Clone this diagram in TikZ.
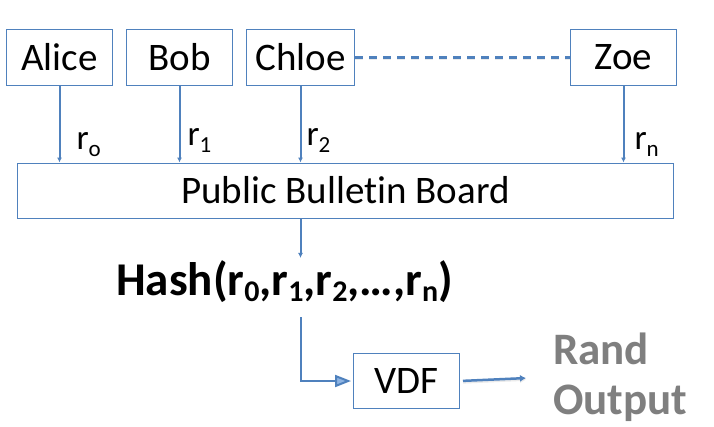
\documentclass[tikz,border=0pt]{standalone}
\usepackage{fontspec}
\setmainfont{Carlito}[Ligatures=NoCommon]
\usetikzlibrary{arrows.meta,positioning}
\definecolor{slideblue}{HTML}{4F81BD}
\definecolor{tipblue}{HTML}{8EB4E3}
\definecolor{outgray}{HTML}{7F7F7F}
% lowered index, as the slide sets it
\newcommand\lowidx[3]{\raisebox{-#1}{\fontsize{#2}{#2}\selectfont #3}}
\tikzset{
  partybox/.style={rectangle, draw=slideblue, line width=1bp, fill=white,
    minimum width=106bp, minimum height=55bp, align=center,
    font=\fontsize{39bp}{43bp}\selectfont, inner sep=2bp},
  boardbox/.style={rectangle, draw=slideblue, line width=1bp,
    minimum width=655bp, minimum height=55bp, align=center,
    font=\fontsize{39bp}{43bp}\selectfont, inner sep=2bp},
  feedarrow/.style={-{Latex[length=5bp,width=5bp]}, draw=slideblue, line width=2bp},
  vdfarrow/.style={-{Triangle[length=16bp,width=12bp,fill=tipblue]}, draw=slideblue, line width=2bp},
  outarrow/.style={-{Latex[length=6bp,width=7bp]}, draw=slideblue, line width=2.5bp,
    preaction={draw=black!8, line width=2.5bp, transform canvas={yshift=-1.5bp}}},
  dashline/.style={draw=slideblue, line width=2.5bp, dash pattern=on 8bp off 6bp,
    preaction={draw=black!8, line width=2.5bp, dash pattern=on 8bp off 6bp,
      transform canvas={yshift=-1.5bp}}},
}

\begin{document}
\begin{tikzpicture}[x=1bp, y=1bp,
    rlabel/.style={inner sep=0pt, font=\fontsize{35bp}{38bp}\selectfont},
    hashtext/.style={inner sep=0pt, font=\fontsize{47bp}{52bp}\selectfont\bfseries},
    randtext/.style={inner sep=3bp, align=left, text=outgray,
      font=\fontsize{45bp}{50bp}\selectfont\bfseries}]

  \path[fill=white, use as bounding box] (0,0) rectangle (714,426);

  % Parties (top row, from left to right)
  \node[partybox] (alice) at (59.5,368.5) {Alice};
  \node[partybox, right=13bp of alice] (bob) {Bob};
  \node[partybox, minimum width=108bp, right=13bp of bob] (chloe) {Chloe};
  \node[partybox, right=215bp of chloe] (zoe) {Zoe};

  % Board, hash and VDF
  \node[boardbox] (board) at (345.5,235.5) {Public Bulletin Board};
  \node[hashtext, anchor=base] (hash) at (284.5,131)
    {Hash(r\lowidx{6bp}{30bp}{0},r\lowidx{6bp}{30bp}{1},r\lowidx{6bp}{30bp}{2},…,r\lowidx{6bp}{30bp}{n})};
  \node[partybox] (vdf) at (406.5,45) {VDF};
  \node[randtext, anchor=west] (rand) at (550,49) {Rand\\Output};

  % Arrows: parties post to the board
  \draw[dashline] (chloe.east) -- (zoe.west);
  \draw[feedarrow] (alice.south) -- (alice.south |- board.north)
    node[pos=0.77, right=16bp, rlabel] {r\lowidx{7bp}{23bp}{o}};
  \draw[feedarrow] (bob.south) -- (bob.south |- board.north)
    node[pos=0.71, right=7bp, rlabel] {r\lowidx{7bp}{23bp}{1}};
  \draw[feedarrow] (chloe.south) -- (chloe.south |- board.north)
    node[pos=0.71, right=5bp, rlabel] {r\lowidx{7bp}{23bp}{2}};
  \draw[feedarrow] (zoe.south) -- (zoe.south |- board.north)
    node[pos=0.77, right=10bp, rlabel] {r\lowidx{7bp}{23bp}{n}};

  % Arrows: board to hash, hash to VDF, VDF to output
  \draw[feedarrow, shorten >=2bp] (board.south -| chloe.south) -- (hash.north -| chloe.south);
  \draw[vdfarrow, shorten <=15bp, shorten >=2bp] (hash.south -| chloe.south) |- (vdf.west);
  \draw[outarrow, shorten <=3bp, shorten >=24bp] (vdf.east) -- (rand.west);

\end{tikzpicture}
\end{document}
